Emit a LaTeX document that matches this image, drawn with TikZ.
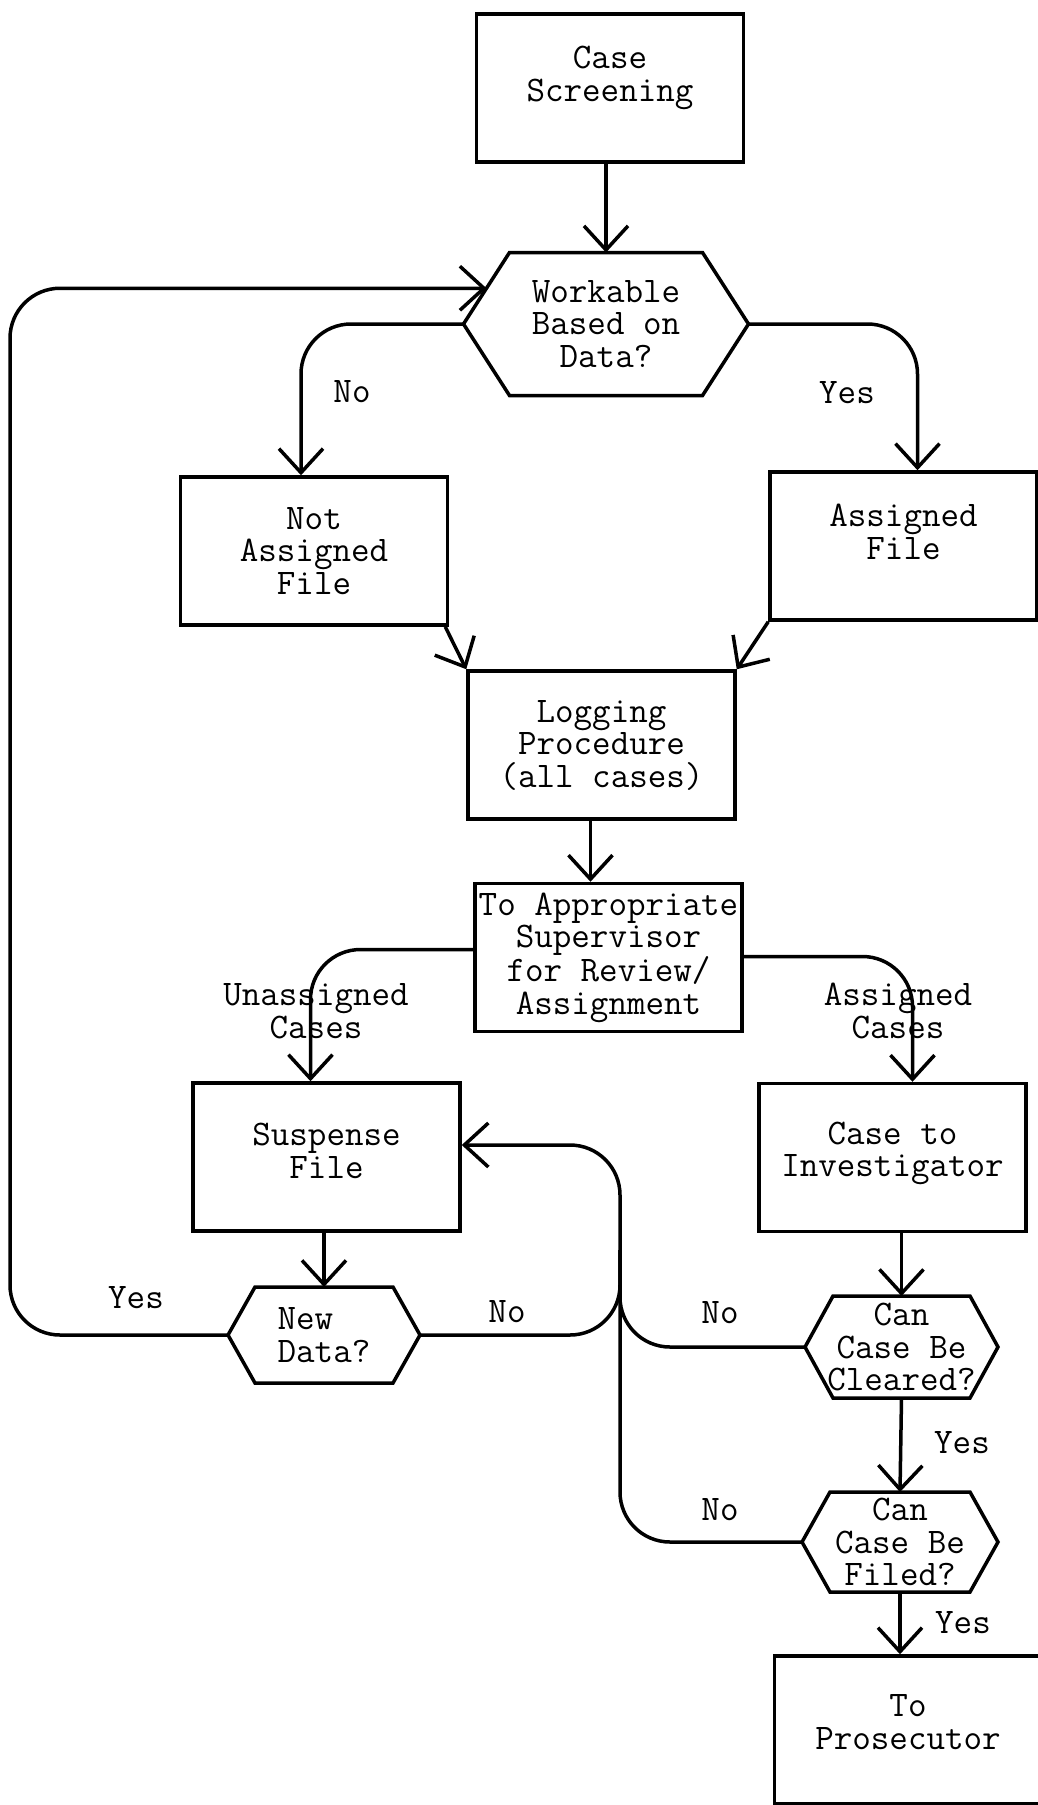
\documentclass[tikz,border=0pt]{standalone}
\usepackage{tikz}
\usetikzlibrary{calc,arrows.meta}
\newcommand{\inkcolor}{black}
\newcommand{\thickness}{3.5pt}
\newcommand{\bendsize}{50pt}
\newcommand{\boxfont}{\ttfamily\fontsize{36}{32.5}\selectfont}
% hexagon round a text node: name, half top width, half height, point
\newcommand{\hexbox}[4]{%
\draw[draw=\inkcolor, line width=\thickness]
  ($(#1.center)+(-#2,-#3)$) coordinate (#1-nw) -- ($(#1.center)+(#2,-#3)$)
  -- ($(#1.center)+(#2+#4,0)$) coordinate (#1-r)
  -- ($(#1.center)+(#2,#3)$) -- ($(#1.center)+(-#2,#3)$)
  -- ($(#1.center)+(-#2-#4,0)$) coordinate (#1-l) -- cycle;
\coordinate (#1-t) at ($(#1.center)+(0,-#3)$);
\coordinate (#1-b) at ($(#1.center)+(0,#3)$);}

\begin{document}
\begin{tikzpicture}[x=1pt, y=-1pt,
  box/.style={draw=\inkcolor, line width=\thickness, minimum width=267pt, minimum height=148pt, inner sep=0pt, align=center, font=\boxfont},
  ques/.style={inner sep=0pt, align=center, font=\boxfont},
  lbl/.style={inner sep=0pt, align=center, font=\boxfont},
  arr/.style={draw=\inkcolor, line width=\thickness, -{Straight Barb[length=24pt, width=44pt]}},
  wire/.style={draw=\inkcolor, line width=\thickness}]
\useasboundingbox (0,0) rectangle (1037,1805);
\node[box, label={[ques, name=screen-txt, yshift=10pt]center:{Case\\Screening}}] (screen) at (610, 88) {};
\node[ques] (work) at (606, 324) {Workable\\Based on\\Data?};
\node[box] (notas) at (314, 551) {Not\\Assigned\\File};
\node[box, label={[ques, name=asfile-txt, yshift=14pt]center:{Assigned\\File}}] (asfile) at (903.5, 546) {};
\node[box] (logging) at (601.5, 745) {Logging\\Procedure\\(all cases)};
\node[box] (superv) at (608.5, 957.5) {To Appropriate\\Supervisor\\for Review/\\Assignment};
\node[box, label={[ques, name=suspense-txt, yshift=6pt]center:{Suspense\\File}}] (suspense) at (326.5, 1157) {};
\node[box, label={[ques, name=invest-txt, yshift=4pt]center:{Case to\\Investigator}}] (invest) at (892.5, 1157.5) {};
\node[ques, align=left] (newdata) at (324, 1335) {New\\Data?};
\node[ques] (cleared) at (901.5, 1347) {Can\\Case Be\\Cleared?};
\node[ques] (filed) at (900, 1542) {Can\\Case Be\\ Filed?};
\node[box, label={[ques, name=prosec-txt, yshift=8pt]center:{To\\Prosecutor}}] (prosec) at (908, 1730) {};
%decisions
\hexbox{work}{96.5}{71.5}{46}
\hexbox{newdata}{69}{48}{27}
\hexbox{cleared}{68.5}{51}{28}
\hexbox{filed}{70}{50}{28}
\coordinate (work-in) at ($(work-l)!.5!(work-nw)$);
\coordinate (loopx) at (10, 800);
\coordinate (trunk) at (620, 1250);
%flow
\draw[arr] (screen.south -| work-t) -- (work-t);
\draw[arr, rounded corners=\bendsize] (newdata-l) -| (loopx) |- (work-in);
\draw[arr, rounded corners=\bendsize] (work-l) -| ([xshift=-13]notas.north);
\draw[arr, rounded corners=\bendsize] (work-r) -| ([xshift=14]asfile.north);
\draw[arr] ([xshift=-4]notas.south east) -- (logging.north west);
\draw[arr] (asfile.south west) -- (logging.north east);
\draw[arr] ([xshift=-11]logging.south) -- ([xshift=-18]superv.north);
\draw[arr, rounded corners=\bendsize] ([yshift=8]superv.west) -| ([xshift=-16]suspense.north);
\draw[arr, rounded corners=\bendsize] ([yshift=1]superv.east) -| ([xshift=20]invest.north);
\draw[arr] (suspense.south -| newdata-t) -- (newdata-t);
\draw[arr, rounded corners=\bendsize] (newdata-r) -| (trunk) |- ([yshift=12]suspense.east);
\draw[wire, rounded corners=\bendsize] (cleared-l) -| (trunk);
\draw[wire, rounded corners=\bendsize] (filed-l) -| (trunk);
\draw[arr] (invest.south -| cleared-t) -- (cleared-t);
\draw[arr] (cleared-b) -- (filed-t);
\draw[arr] (filed-b) -- (filed-b |- prosec.north);
%labels
\node[lbl] (no-work) at (352, 392) {No};
\node[lbl] (yes-work) at (847, 393) {Yes};
\node[lbl] (unas) at (316, 1011) {Unassigned\\Cases};
\node[lbl] (asgn) at (898, 1011) {Assigned\\Cases};
\node[lbl] (yes-new) at (136, 1298) {Yes};
\node[lbl] (no-new) at (507, 1312) {No};
\node[lbl] (no-clear) at (720, 1313) {No};
\node[lbl] (yes-clear) at (962, 1443) {Yes};
\node[lbl] (no-file) at (720, 1510) {No};
\node[lbl] (yes-file) at (963, 1623) {Yes};
\end{tikzpicture}
\end{document}
